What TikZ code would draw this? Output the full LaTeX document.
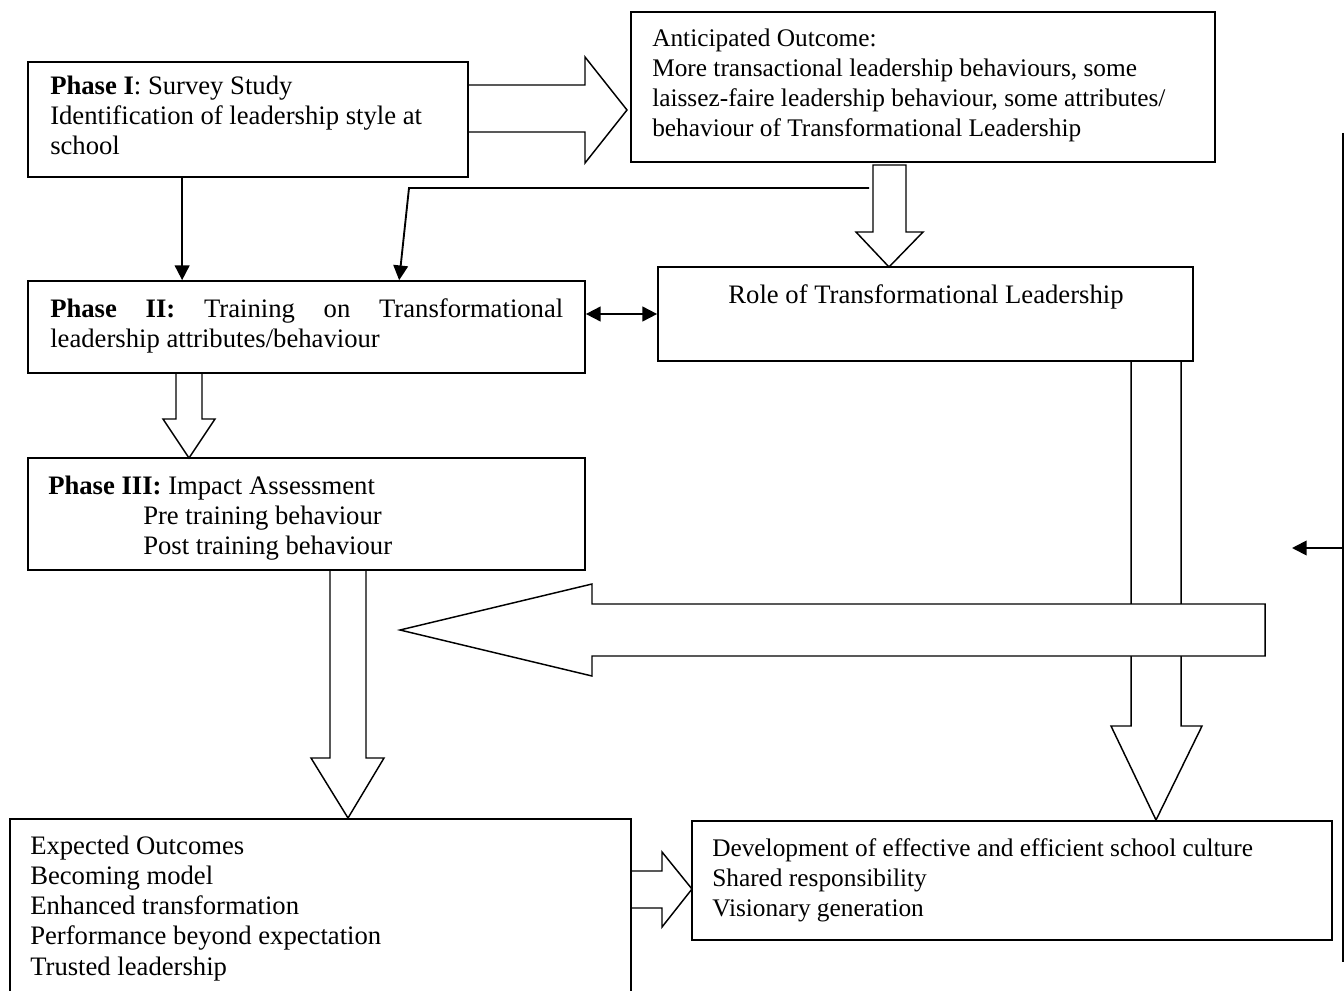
\documentclass[tikz,border=0pt]{standalone}
\usepackage{fontspec}
\setmainfont{Liberation Serif}
\usetikzlibrary{arrows.meta,fit,calc}
\begin{document}
\begin{tikzpicture}[x=0.75pt,y=-0.75pt,
  box/.style={draw, line width=1.3pt, inner sep=0pt},
  txt/.style={anchor=base west, inner sep=0pt, font=\fontsize{19}{22.5}\selectfont},
  txtL/.style={anchor=base west, inner sep=0pt, font=\fontsize{20}{22.5}\selectfont},
  blockarrow/.style={draw, line width=1.1pt, fill=white, line join=miter},
  tipstyle/.style={line width=1.4pt},
  thinarrow/.style={tipstyle, -{Triangle[width=11pt,length=11pt]}},
  dblarrow/.style={tipstyle, {Triangle[width=11pt,length=11pt]}-{Triangle[width=11pt,length=11pt]}},
]
\useasboundingbox (0,0) rectangle (1344,991);
\fill[white] (0,0) rectangle (1344,991);

% block arrows
\draw[blockarrow] (468,85) -- (585,85) -- (585,57) -- (627,110) -- (585,163) -- (585,132) -- (468,132);
\draw[blockarrow] (873,165) -- (906,165) -- (906,232) -- (923,232) -- (889,267) -- (856,232) -- (873,232) -- cycle;
\draw[blockarrow] (176,373) -- (176,419) -- (163,419) -- (189,458) -- (215,419) -- (202,419) -- (202,373);
\draw[blockarrow] (330,570) -- (330,758) -- (311,758) -- (348,818) -- (384,758) -- (366,758) -- (366,570);
\draw[blockarrow] (1131,361) -- (1131,726) -- (1111,726) -- (1156,820) -- (1202,726) -- (1181,726) -- (1181,361);
\draw[blockarrow] (1265,604) -- (592,604) -- (592,584) -- (400,630) -- (592,676) -- (592,656) -- (1265,656) -- cycle;
\draw[blockarrow] (631,871) -- (662,871) -- (662,852) -- (692,889) -- (662,927) -- (662,908) -- (631,908);

% boxes
\node[box, fit={(28,62) (468,177)}] (p1) {};
\node[box, fit={(631,12) (1215,162)}] (ant) {};
\node[box, fit={(28,281) (585,373)}] (p2) {};
\node[box, fit={(658,267) (1193,361)}] (role) {};
\node[box, fit={(28,458) (585,570)}] (p3) {};
\node[box, fit={(10,819) (631,1010)}] (exp) {};
\node[box, fit={(692,821) (1332,940)}] (dev) {};

% texts
\node[txtL] (p1a) at (50,95) {\textbf{Phase I}: Survey Study};
\node[txtL] (p1b) at (50,125) {Identification of leadership style at};
\node[txtL] (p1c) at (50,155) {school};

\node[txt] (anta) at (652,47) {Anticipated Outcome:};
\node[txt] (antb) at (652,77) {More transactional leadership behaviours, some};
\node[txt] (antc) at (652,107) {laissez-faire leadership behaviour, some attributes/};
\node[txt] (antd) at (652,137) {behaviour of Transformational Leadership};

\node[txtL, anchor=base] (rolea) at (926,303) {Role of Transformational Leadership};

\node[txtL] (p2a) at (50,317) {\hbox to 384.75pt{\textbf{Phase}\hfill\textbf{II:}\hfill Training\hfill on\hfill Transformational}};
\node[txtL] (p2b) at (50,347) {leadership attributes/behaviour};

\node[txtL] (p3a) at (48,494) {\textbf{Phase III:} Impact Assessment};
\node[txtL] (p3b) at (143,524) {Pre training behaviour};
\node[txtL] (p3c) at (143,554) {Post training behaviour};

\node[txtL] (expa) at (30,854) {Expected Outcomes};
\node[txtL] (expb) at (30,884) {Becoming model};
\node[txtL] (expc) at (30,914) {Enhanced transformation};
\node[txtL] (expd) at (30,944) {Performance beyond expectation};
\node[txtL] (expe) at (30,975) {Trusted leadership};

\node[txt] (deva) at (712,856) {Development of effective and efficient school culture};
\node[txt] (devb) at (712,886) {Shared responsibility};
\node[txt] (devc) at (712,916) {Visionary generation};

% thin connectors
\draw[thinarrow] ($(p1.south west)+(155,0)$) -- ($(p2.north west)+(155,0)$);
\coordinate (antL) at (869,188);
\coordinate (bend) at (409,188);
\draw[thinarrow, line join=miter] (antL) -- (bend) -- ($(p2.north west)+(372,0)$);
\draw[dblarrow] (p2.east |- role.west) -- (role.west);
\coordinate (rlt) at (1343,133);
\coordinate (rlb) at (1343,962);
\draw[line width=0.8pt] (rlt) -- (rlb);
\coordinate (sa) at (1342,548);
\coordinate (sb) at (1292,548);
\draw[thinarrow] (sa) -- (sb);
\end{tikzpicture}
\end{document}
